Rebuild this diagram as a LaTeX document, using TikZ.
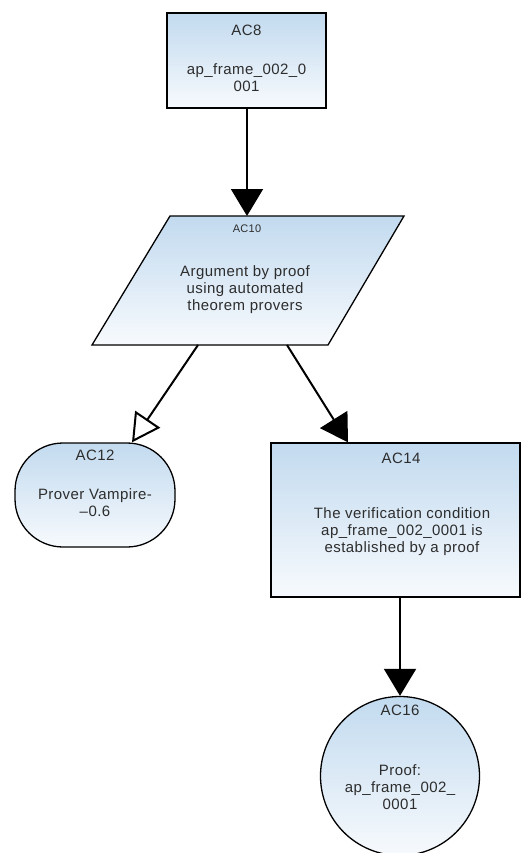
\documentclass[tikz,border=0pt]{standalone}
\usepackage{fontspec}
\setmainfont{Liberation Sans}[LetterSpace=3]
\usetikzlibrary{arrows.meta,calc}
\definecolor{boxtop}{RGB}{194,218,239}
\definecolor{boxbot}{RGB}{247,250,253}
\definecolor{ink}{RGB}{45,45,45}
\tikzset{
  % pale blue at the top fading to near white at the bottom
  boxshade/.style={top color=boxtop, bottom color=boxbot},
  shapebox/.style={draw=black, line width=1.3pt, boxshade, inner sep=0pt},
  title/.style={text=ink, font=\fontsize{15}{17}\selectfont, inner sep=0pt},
  smalltitle/.style={text=ink, font=\fontsize{11}{13}\selectfont, inner sep=0pt},
  body/.style={text=ink, font=\fontsize{15}{17}\selectfont, align=center, inner sep=0pt},
  solidlink/.style={line width=2pt, -{Triangle[length=27pt,width=32pt]}},
  openlink/.style={line width=2pt, -{Triangle[open,length=28pt,width=30pt,fill=white,line width=2pt]}}
}
\begin{document}
% units are points; y values are negative so the page runs downward from 0
\begin{tikzpicture}[x=1pt,y=1pt]
\useasboundingbox (0,-853) rectangle (522,0);

% AC8: goal box
\node[shapebox, rectangle, minimum width=159pt, minimum height=95pt] (ac8) at (246.5,-60.5) {};
\node[title] (ac8t) at (246.5,-30) {AC8};
\node[body] (ac8b) at (246.5,-78) {ap\_frame\_002\_0\\001};

% AC10: strategy parallelogram
\coordinate (p-tl) at (170,-216);
\coordinate (p-tr) at (404,-216);
\coordinate (p-br) at (328,-345);
\coordinate (p-bl) at (92,-345);
\path[shapebox, line join=miter] (p-tl) -- (p-tr) -- (p-br) -- (p-bl) -- cycle;
\node[smalltitle] (ac10t) at (247,-229) {AC10};
\node[body] (ac10) at (245,-290) {Argument by proof\\using automated\\theorem provers};
\coordinate (ac10in) at (247,-216);
\coordinate (ac10outl) at (198,-345);
\coordinate (ac10outr) at (287,-345);

% AC12: context
\node[shapebox, rectangle, rounded corners=48pt, minimum width=160pt, minimum height=104pt] (ac12) at (95,-495) {};
\node[title] (ac12t) at (95,-455) {AC12};
\node[body] (ac12b) at (95,-503) {Prover Vampire-\\--0.6};

% AC14: goal box
\node[shapebox, rectangle, minimum width=249pt, minimum height=154pt] (ac14) at (395.5,-520) {};
\node[title] (ac14t) at (401,-458) {AC14};
\node[body] (ac14b) at (402,-532) {The verification condition\\ap\_frame\_002\_0001 is\\established by a proof};

% AC16: solution circle
\node[shapebox, circle, minimum size=159pt] (ac16) at (400,-776) {};
\node[title] (ac16t) at (400,-710) {AC16};
\node[body] (ac16b) at (400,-787) {Proof:\\ap\_frame\_002\_\\0001};

% connectors
\draw[solidlink] (ac8.south -| ac10in) -- (ac10in);
\draw[openlink] (ac10outl) -- (ac12.north east -| 132,0);
\draw[solidlink] (ac10outr) -- (ac14.north west -| 348,0);
\draw[solidlink] (ac14.south -| ac16.north) -- (ac16.north);
\end{tikzpicture}
\end{document}
